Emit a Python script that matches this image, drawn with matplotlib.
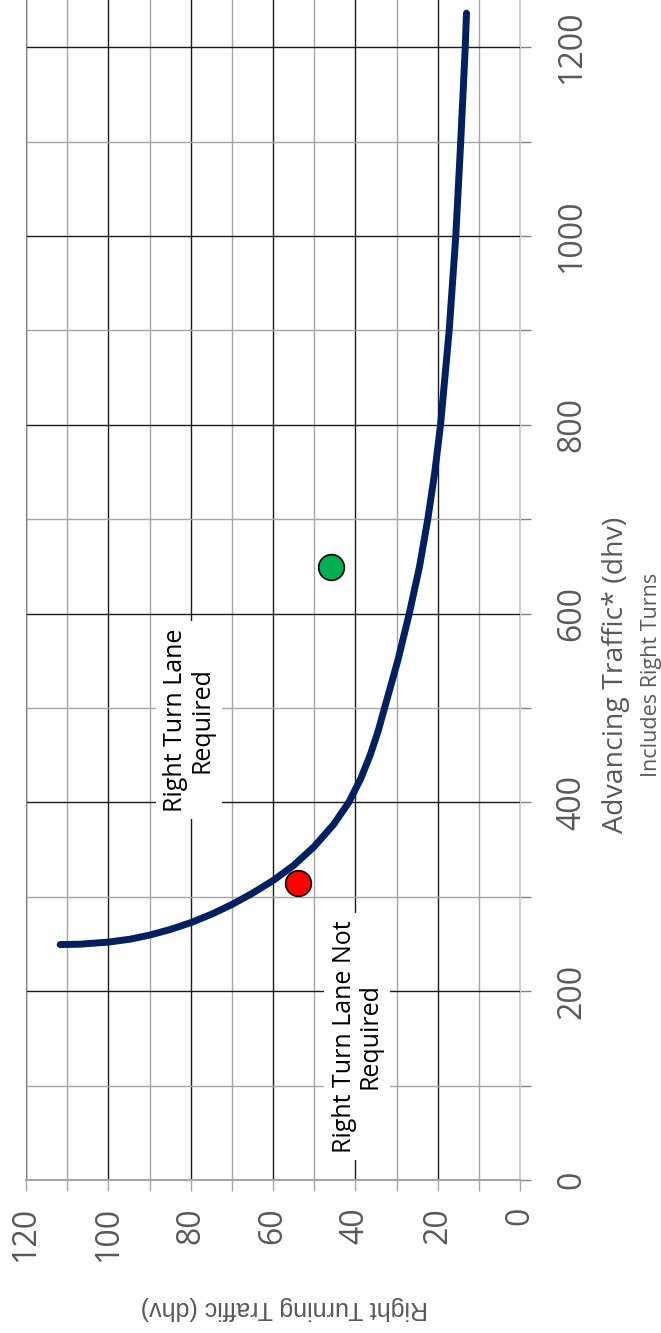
import matplotlib
matplotlib.use("Agg")
import matplotlib.pyplot as plt
from matplotlib.ticker import MultipleLocator

# ---- data ----
right_turning = [111.7, 106.9, 100.0, 94.7, 89.9, 85.0, 79.9, 74.9, 70.0, 65.1,
                 60.0, 55.0, 50.0, 45.3, 41.6, 38.7, 36.4, 34.5, 32.9, 29.7,
                 26.9, 24.4, 22.4, 20.7, 19.3, 17.2, 15.6, 14.4, 13.3, 13.0]
advancing = [249.4, 249.8, 252.0, 255.1, 259.5, 265.3, 272.7, 281.6, 291.8, 303.5,
             317.2, 333.2, 353.2, 376.5, 400.0, 425.0, 450.0, 475.0, 500.0, 550.0,
             600.0, 650.0, 700.0, 750.0, 800.0, 900.0, 1000.0, 1100.0, 1200.0, 1236.0]

red_rt, red_at = [54], [315]
green_rt, green_at = [46], [649]

rt_ticks = [0, 20, 40, 60, 80, 100, 120]
at_ticks = [0, 200, 400, 600, 800, 1000, 1200]

label_required = "Right Turn Lane\nRequired"
label_required_pos = (80.5, 487)
label_not_required = "Right Turn Lane Not\nRequired"
label_not_required_pos = (39.6, 152)

W, H = 661, 1333
fig = plt.figure(figsize=(W / 100, H / 100), dpi=100)
ax = fig.add_axes([26 / W, 1 - 1180 / H, (520 - 26) / W, 1180 / H])

ax.set_xlim(120, 0)
ax.set_ylim(0, 1250)

ax.xaxis.set_major_locator(MultipleLocator(20))
ax.xaxis.set_minor_locator(MultipleLocator(10))
ax.yaxis.set_major_locator(MultipleLocator(200))
ax.yaxis.set_minor_locator(MultipleLocator(100))
ax.set_xticks(rt_ticks)
ax.set_yticks(at_ticks)
ax.yaxis.tick_right()

ax.grid(which="major", color="#1a1a1a", lw=1.0, zorder=0)
ax.grid(which="minor", color="#a6a6a6", lw=1.0, zorder=0)
ax.set_axisbelow(True)

ax.spines["top"].set_visible(False)
ax.spines["left"].set_color("#808080")
ax.spines["bottom"].set_color("#a6a6a6")
ax.spines["bottom"].set_linewidth(1.5)
ax.spines["right"].set_color("#d0d0d0")

tick_font = "Open Sans"
ax.tick_params(axis="x", which="both", direction="out", length=8, width=1,
               color="#a6a6a6", pad=11.5, labelrotation=90, labelsize=23,
               labelcolor="#595959")
ax.tick_params(axis="y", which="both", direction="out", length=8, width=1,
               color="#808080", pad=17.5, labelrotation=90, labelsize=23,
               labelcolor="#595959", left=False, right=True)
for lbl in ax.get_xticklabels() + ax.get_yticklabels():
    lbl.set_fontfamily(tick_font)
for lbl in ax.get_yticklabels():
    lbl.set_va("center")

ax.plot(right_turning, advancing, color="#002060", lw=5.0,
        solid_capstyle="round", solid_joinstyle="round", zorder=3)
ax.plot(red_rt, red_at, "o", ms=18.5, mfc="#ff0000", mec="black", mew=1.2, zorder=4)
ax.plot(green_rt, green_at, "o", ms=18.5, mfc="#00b050", mec="black", mew=1.2, zorder=4)

box = dict(boxstyle="square,pad=0.3", fc="white", ec="none")
ax.text(*label_required_pos, label_required, rotation=90, ha="center", va="center",
        multialignment="center", fontsize=18, family="Open Sans", color="black",
        bbox=box, zorder=2, linespacing=1.05)
ax.text(*label_not_required_pos, label_not_required, rotation=90, ha="center",
        va="center", multialignment="center", fontsize=18, family="Open Sans",
        color="black", bbox=box, zorder=2, linespacing=1.05)

fig.text(616 / W, 1 - 675 / H, "Advancing Traffic* (dhv)", rotation=90,
         ha="center", va="center", fontsize=20.5, family="Open Sans", color="#595959")
fig.text(651 / W, 1 - 675 / H, "Includes Right Turns", rotation=90,
         ha="center", va="center", fontsize=15.5, family="Open Sans", color="#595959")
fig.text(284 / W, 1 - 1308 / H, "Right Turning Traffic (dhv)", rotation=180,
         ha="center", va="center", fontsize=18, family="Liberation Sans", color="#595959")

fig.savefig("out.png", dpi=100)
